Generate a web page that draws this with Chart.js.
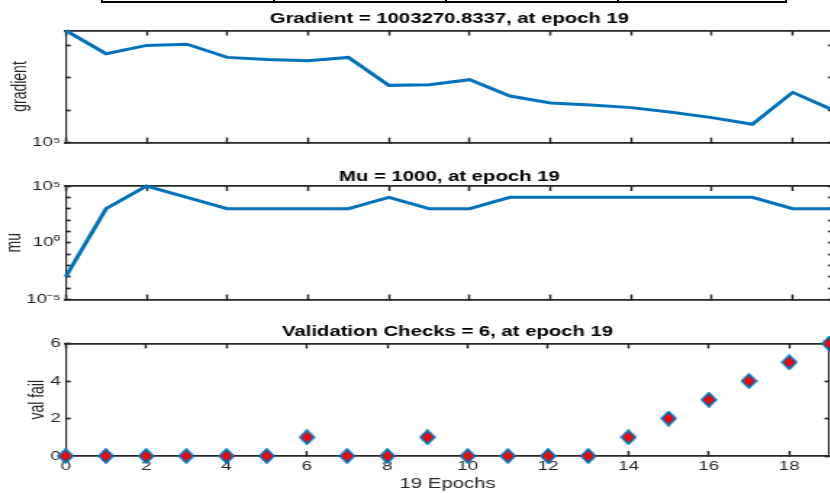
<!DOCTYPE html>
<html>
<head>
<meta charset="utf-8">
<script src="https://cdn.jsdelivr.net/npm/chart.js@4.4.1/dist/chart.umd.min.js"></script>
<style>
  html, body { margin: 0; padding: 0; background: #fff; overflow: hidden; width: 830px; height: 493px; }
  canvas { position: absolute; left: 0; }
  #tabla { position: absolute; left: 101px; top: -20px; width: 686px; height: 23px; border: 2px solid #000; box-sizing: border-box; }
  #tabla div { position: absolute; top: 0; bottom: 0; width: 2px; background: #000; }
</style>
</head>
<body>
<div id="tabla"><div style="left:170px"></div><div style="left:342px"></div><div style="left:514px"></div></div>
<canvas id="graficoGradiente" width="580" height="150" style="top:0px;width:841px;height:150px"></canvas>
<canvas id="graficoMu" width="580" height="165" style="top:150px;width:841px;height:165px"></canvas>
<canvas id="graficoVal" width="580" height="178" style="top:315px;width:841px;height:178px"></canvas>
<script>
/* ===================== DATOS ===================== */
const epocas = [0, 1, 2, 3, 4, 5, 6, 7, 8, 9, 10, 11, 12, 13, 14, 15, 16, 17, 18, 19];
const ticksEpoca = [0, 2, 4, 6, 8, 10, 12, 14, 16, 18];

const gradiente = [
  2.92e8, 5.58e7, 1.01e8, 1.10e8, 4.30e7, 3.72e7, 3.40e7, 4.30e7, 5.86e6, 6.17e6,
  8.79e6, 2.74e6, 1.67e6, 1.45e6, 1.20e6, 8.61e5, 5.89e5, 3.67e5, 3.56e6, 1003270.8337,
];
const ticksGradiente = [1e5, 1e6, 1e7, 1e8];
const etiquetasGradiente = ["10⁵", "", "", ""];

const mu = [
  1e-3, 1e3, 1e5, 1e4, 1e3, 1e3, 1e3, 1e3, 1e4, 1e3,
  1e3, 1e4, 1e4, 1e4, 1e4, 1e4, 1e4, 1e4, 1e3, 1e3,
];
const ticksMu = [1e-5, 1e-4, 1e-3, 1e-2, 1e-1, 1e0, 1e1, 1e2, 1e3, 1e4, 1e5];
const etiquetasMu = ["10⁻⁵", "", "", "", "", "10⁰", "", "", "", "", "10⁵"];

const valFail = [0, 0, 0, 0, 0, 0, 1, 0, 0, 1, 0, 0, 0, 0, 1, 2, 3, 4, 5, 6];
const ticksVal = [0, 2, 4, 6];
const etiquetasVal = ["0", "2", "4", "6"];

/* ===================== LAYOUT ===================== */
// la figura original esta estirada en horizontal; el canvas se dibuja angosto y el CSS lo estira
const S = 1.45;
const ANCHO = 580;
const AREA_IZQ = 65.7 / S;
const AREA_DER = 833.1 / S;
const AZUL = "#0072BD";
const GRIS = "#262626";

Chart.defaults.font.family = "'Liberation Sans', Arial, sans-serif";
Chart.defaults.color = GRIS;

// sin margenes extra por etiquetas: el area queda donde la fijamos
function sinPadding(s) {
  s.paddingTop = 0;
  s.paddingBottom = 0;
  s.paddingLeft = 0;
  s.paddingRight = 0;
}

function ejeX(pos, conEtiquetas, alto, titulo) {
  return {
    type: "linear",
    position: pos,
    min: 0,
    max: 19,
    afterBuildTicks: (s) => { s.ticks = ticksEpoca.map((v) => ({ value: v })); },
    afterFit: (s) => { s.height = alto; sinPadding(s); },
    grid: { drawOnChartArea: false, tickLength: -5, tickWidth: 1.5, tickColor: GRIS },
    border: { display: true, color: GRIS, width: 1.7 },
    ticks: { display: conEtiquetas, padding: 8, autoSkip: false, maxRotation: 0, font: { size: 13 } },
    title: titulo
      ? { display: true, text: titulo, font: { size: 14 }, padding: { top: 0, bottom: 0 } }
      : { display: false },
  };
}

function ejeY(pos, tipo, min, max, ticks, etiquetas, titulo, padTitulo) {
  return {
    type: tipo,
    position: pos,
    min: min,
    max: max,
    afterBuildTicks: (s) => { s.ticks = ticks.map((v) => ({ value: v })); },
    afterFit: (s) => { s.width = pos === "left" ? AREA_IZQ : ANCHO - AREA_DER; sinPadding(s); },
    grid: { drawOnChartArea: false, tickLength: -5 / S, tickWidth: 1.7, tickColor: GRIS },
    border: { display: true, color: GRIS, width: 1.7 / S },
    ticks: {
      display: pos === "left",
      padding: 10 / S,
      autoSkip: false,
      font: { size: 13 },
      callback: (v, i) => etiquetas[i],
    },
    title: titulo
      ? { display: true, text: titulo, font: { size: 14 }, padding: { top: padTitulo, bottom: 0 } }
      : { display: false },
  };
}

function opcionesTitulo(texto, arriba, abajo) {
  return {
    display: true,
    text: texto,
    fullSize: false,
    color: "#000",
    font: { size: 14, weight: "bold", lineHeight: 1.2 },
    padding: { top: arriba, bottom: abajo },
  };
}

function comunes(titulo) {
  return {
    responsive: false,
    animation: false,
    devicePixelRatio: 1,
    layout: { padding: 0 },
    plugins: { legend: { display: false }, tooltip: { enabled: false }, title: titulo },
  };
}

/* ===================== ROMBO ===================== */
function crearRombo() {
  const c = document.createElement("canvas");
  c.width = 12;
  c.height = 16;
  const ctx = c.getContext("2d");
  ctx.beginPath();
  ctx.moveTo(6, 1.2);
  ctx.lineTo(10.8, 8);
  ctx.lineTo(6, 14.8);
  ctx.lineTo(1.2, 8);
  ctx.closePath();
  ctx.fillStyle = "#FF0000";
  ctx.fill();
  ctx.lineWidth = 1.8;
  ctx.strokeStyle = AZUL;
  ctx.stroke();
  return c;
}

/* ===================== GRADIENTE ===================== */
new Chart(document.getElementById("graficoGradiente"), {
  type: "line",
  data: {
    datasets: [{
      data: epocas.map((e, i) => ({ x: e, y: gradiente[i] })),
      borderColor: AZUL,
      borderWidth: 3,
      pointRadius: 0,
      clip: false,
    }],
  },
  options: {
    ...comunes(opcionesTitulo("Gradient = 1003270.8337, at epoch 19", 10.6, 3.1)),
    scales: {
      x: ejeX("bottom", false, 7.5),
      x2: ejeX("top", false, 0),
      y: ejeY("left", "logarithmic", 1e5, Math.max(...gradiente), ticksGradiente, etiquetasGradiente, "gradient", 5.7),
      y2: ejeY("right", "logarithmic", 1e5, Math.max(...gradiente), ticksGradiente, etiquetasGradiente),
    },
  },
});

/* ===================== MU ===================== */
new Chart(document.getElementById("graficoMu"), {
  type: "line",
  data: {
    datasets: [{
      data: epocas.map((e, i) => ({ x: e, y: mu[i] })),
      borderColor: AZUL,
      borderWidth: 3,
      pointRadius: 0,
      clip: false,
    }],
  },
  options: {
    ...comunes(opcionesTitulo("Mu = 1000, at epoch 19", 18.4, 0.8)),
    scales: {
      x: ejeX("bottom", false, 15.5),
      x2: ejeX("top", false, 0),
      y: ejeY("left", "logarithmic", 1e-5, 1e5, ticksMu, etiquetasMu, "mu", 1.6),
      y2: ejeY("right", "logarithmic", 1e-5, 1e5, ticksMu, etiquetasMu),
    },
  },
});

/* ===================== VALIDATION CHECKS ===================== */
new Chart(document.getElementById("graficoVal"), {
  type: "line",
  data: {
    datasets: [{
      data: epocas.map((e, i) => ({ x: e, y: valFail[i] })),
      showLine: false,
      pointStyle: crearRombo(),
      pointRadius: 7,
      clip: false,
    }],
  },
  options: {
    ...comunes(opcionesTitulo("Validation Checks = 6, at epoch 19", 9.1, 2.6)),
    scales: {
      x: ejeX("bottom", true, 37, "19 Epochs"),
      x2: ejeX("top", false, 0),
      y: ejeY("left", "linear", 0, 6, ticksVal, etiquetasVal, "val fail", 18.2),
      y2: ejeY("right", "linear", 0, 6, ticksVal, etiquetasVal),
    },
  },
});
</script>
</body>
</html>
